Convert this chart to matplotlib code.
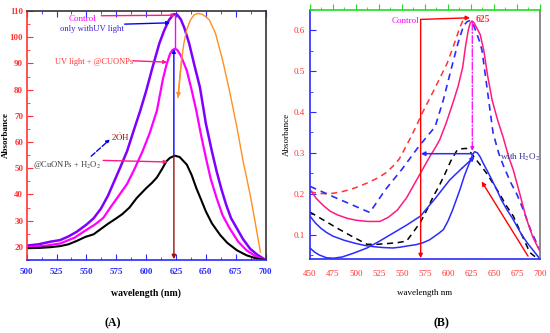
import matplotlib
matplotlib.use('Agg')
import matplotlib.pyplot as plt
from matplotlib.ticker import MultipleLocator

plt.rcParams['font.family'] = ['Liberation Serif', 'DejaVu Serif']
plt.rcParams['mathtext.fontset'] = 'stix'

# ---- panel A data ----
uv_x = [500, 510, 520, 528, 535, 542, 550, 556, 562, 568, 572, 578, 584, 590, 595, 600, 605, 611, 615, 619, 623,
        626, 629, 632, 636, 640, 645, 650, 655, 659, 663, 667, 671, 676, 681, 687, 693, 700]
uv_y = [20.5, 21.0, 22.0, 22.6, 24.0, 25.8, 28.5, 30.9, 34.5, 39.5, 43.7, 50, 56.5, 65, 71.9, 79.5, 88, 97.6, 102.5,
        106.5, 108.8, 108.6, 106.8, 103.5, 97.6, 90, 80.9, 67, 56.5, 48.8, 42, 36, 31, 27, 23, 19.3, 17, 15]
cu_x = [500, 515, 528, 540, 550, 557, 564, 570, 577, 584, 590, 597, 603, 609, 614, 617, 620, 622, 624, 626, 629,
        634, 638, 642, 646, 650, 654, 659, 664, 670, 677, 684, 692, 700]
cu_y = [19.8, 20.4, 21.3, 23.5, 26.5, 28.5, 31, 35, 39.5, 44, 49.5, 56.5, 63.5, 72, 84, 89.5, 93.7, 95.1, 95.6, 95.2,
        93, 87.3, 80, 71.9, 62.5, 54, 46, 38.6, 32, 27, 22, 18.7, 16.3, 15]
h2o2_x = [500, 510, 520, 528, 535, 542, 549, 556, 562, 568, 575, 580, 586, 592, 600, 605, 609, 613, 617, 620, 624,
          628, 634, 638, 642, 646, 650, 655, 662, 668, 676, 684, 692, 700]
h2o2_y = [19.5, 19.6, 19.9, 20.3, 21, 22.3, 23.8, 24.8, 26.8, 28.8, 30.9, 32.5, 35, 38.6, 42.4, 44.5, 46.5, 49.5,
          52.7, 54, 54.8, 54.3, 51.4, 47.5, 42.4, 38, 33.5, 29, 24.5, 21.5, 18.7, 16.8, 15.6, 15]
orange_x = [626.7, 628, 629.6, 631.5, 633.8, 637, 640, 643.5, 647, 650, 653, 658, 664, 670, 676, 681, 687, 691, 695.6]
orange_y = [77, 84, 91.2, 97.5, 102.7, 106.5, 108.5, 109.1, 108.7, 107.8, 106.5, 101.5, 91.2, 79, 65.5, 53, 40, 30, 18]
xticksA = [500, 525, 550, 575, 600, 625, 650, 675, 700]
yticksA = [20, 30, 40, 50, 60, 70, 80, 90, 100, 110]

# ---- panel B data ----
red_dash_x = [450, 458, 466, 475, 483, 490, 500, 512, 525, 533, 540, 547, 553, 560, 566, 571, 578, 585, 592, 599,
              606, 613, 617]
red_dash_y = [0.205, 0.201, 0.2, 0.201, 0.204, 0.208, 0.215, 0.226, 0.24, 0.252, 0.267, 0.285, 0.31, 0.34, 0.368,
              0.393, 0.424, 0.455, 0.487, 0.519, 0.562, 0.608, 0.628]
blue_dash_x = [450, 480, 515, 532, 550, 568, 586, 595, 604, 611, 617, 621, 624, 627, 630, 634, 637, 643, 649, 655,
               660, 668, 675, 682, 690, 698, 700]
blue_dash_y = [0.218, 0.188, 0.154, 0.21, 0.26, 0.315, 0.364, 0.43, 0.51, 0.57, 0.612, 0.622, 0.624, 0.618, 0.6,
               0.575, 0.551, 0.45, 0.349, 0.3, 0.27, 0.228, 0.198, 0.16, 0.11, 0.071, 0.06]
pink_x = [450, 457, 465, 472, 480, 490, 500, 513, 526, 535, 545, 555, 566, 573, 580, 586, 591, 598, 605, 611, 616,
          619, 622, 624, 626, 628, 631, 635, 639, 643, 648, 654, 660, 666, 671, 678, 685, 692, 698, 700]
pink_y = [0.21, 0.188, 0.17, 0.157, 0.148, 0.14, 0.135, 0.132, 0.132, 0.142, 0.16, 0.19, 0.234, 0.262, 0.29, 0.312,
          0.332, 0.373, 0.42, 0.463, 0.51, 0.56, 0.6, 0.617, 0.623, 0.62, 0.607, 0.59, 0.55, 0.49, 0.429, 0.38,
          0.338, 0.29, 0.258, 0.2, 0.14, 0.095, 0.067, 0.06]
black_dash_x = [450, 465, 480, 496, 512, 523, 535, 545, 555, 562, 570, 577, 584, 591, 597, 603, 610, 615, 620, 625,
                630, 636, 642, 649, 656, 663, 671, 680, 689, 695]
black_dash_y = [0.155, 0.135, 0.115, 0.095, 0.076, 0.076, 0.078, 0.08, 0.084, 0.105, 0.13, 0.16, 0.193, 0.222,
                0.25, 0.28, 0.307, 0.31, 0.311, 0.3, 0.285, 0.268, 0.25, 0.225, 0.2, 0.172, 0.145, 0.1, 0.056, 0.045]
blue1_x = [450, 456, 462, 468, 475, 487, 500, 510, 520, 530, 540, 548, 556, 565, 573, 580, 585, 590, 595, 600, 605,
           609, 613, 618, 622, 624, 627, 629, 632, 635, 638, 642, 647, 653, 658, 664, 670, 675, 680, 686, 693, 700]
blue1_y = [0.145, 0.128, 0.115, 0.105, 0.096, 0.086, 0.078, 0.073, 0.07, 0.068, 0.067, 0.069, 0.072, 0.075, 0.08,
           0.087, 0.095, 0.103, 0.112, 0.133, 0.16, 0.185, 0.21, 0.245, 0.268, 0.279, 0.297, 0.303, 0.3, 0.29,
           0.276, 0.259, 0.237, 0.21, 0.185, 0.161, 0.14, 0.12, 0.1, 0.08, 0.06, 0.04]
blue2_x = [450, 455, 460, 468, 476, 485, 497, 512, 525, 540, 555, 570, 586, 602, 615, 629]
blue2_y = [0.067, 0.057, 0.05, 0.043, 0.042, 0.045, 0.054, 0.067, 0.083, 0.103, 0.123, 0.145, 0.188, 0.234, 0.262,
           0.291]
xticksB = [450, 475, 500, 525, 550, 575, 600, 625, 650, 675, 700]
yticksB = [0.1, 0.2, 0.3, 0.4, 0.5, 0.6]

RED = '#ff3333'
BLUE = '#2b2bff'
MAG = '#ff00ff'
PINK = '#ff1a80'


def arrow(ax, start, end, color, lw=1.0, ls='-', ms=7):
    ax.annotate('', xy=end, xytext=start,
                arrowprops=dict(arrowstyle='-|>', color=color, lw=lw, ls=ls,
                                mutation_scale=ms, shrinkA=0, shrinkB=0))


fig = plt.figure(figsize=(5.5, 3.33), dpi=100)

# ================= panel A =================
axA = fig.add_axes([0.0485, 0.2192, 0.4345, 0.7477])
axA.plot(uv_x, uv_y, color='#8000ff', lw=1.8)
axA.plot(cu_x, cu_y, color=MAG, lw=1.6)
axA.plot(h2o2_x, h2o2_y, color='black', lw=1.5)
axA.plot(orange_x, orange_y, color='#ff9020', lw=1.0)
arrow(axA, (orange_x[2], orange_y[2]), (orange_x[0], orange_y[0]), '#ff9020', ms=6)

# vertical guides at the peak
arrow(axA, (623.2, 54.6), (623.2, 95.5), 'blue', lw=1.0, ms=5)
axA.plot([624.5, 624.5], [95.6, 108.3], color=MAG, lw=1.0)
arrow(axA, (623.2, 54.6), (623.2, 15.3), '#a01010', lw=1.0, ms=6)

# labels
axA.text(547, 107.0, 'Control', color=MAG, fontsize=6.5, ha='center', va='center')
arrow(axA, (562.5, 108.2), (624.5, 108.4), PINK, ms=5)
axA.text(555, 103.2, 'only withUV light', color='#4020d0', fontsize=6.2, ha='center', va='center')
arrow(axA, (582, 105.0), (620, 105.5), 'blue', ms=5)
axA.text(556, 90.6, 'UV light + @CUONPs', color=RED, fontsize=6.0, ha='center', va='center')
arrow(axA, (589, 91.0), (617.5, 90.5), PINK, ms=5)
axA.text(579, 61.8, '2$\\dot{\\rm O}$H', color='#a01010', fontsize=6.5, ha='center', va='center')
arrow(axA, (554, 54.6), (569.6, 61), 'blue', ls='--', ms=5)
axA.text(534, 51.4, '@CuONPs + H$_2$O$_2$', color='#404040', fontsize=6.1, ha='center', va='center')
arrow(axA, (564, 53.0), (618, 52.4), PINK, ms=5)

axA.set_xlim(500, 700)
axA.set_ylim(15, 110)
axA.set_xticks(xticksA)
axA.set_yticks(yticksA)
axA.xaxis.set_minor_locator(MultipleLocator(12.5))
axA.yaxis.set_minor_locator(MultipleLocator(5))
axA.tick_params(axis='x', which='both', direction='in', colors=BLUE, top=True, labelsize=6.5, pad=6)
axA.tick_params(axis='x', which='major', length=4)
axA.tick_params(axis='x', which='minor', length=2)
axA.tick_params(axis='y', which='both', direction='in', colors=RED, labelsize=6.5, pad=2.5)
axA.tick_params(axis='y', which='major', length=4)
axA.tick_params(axis='y', which='minor', length=2)
for t in axA.xaxis.get_major_ticks() + axA.xaxis.get_minor_ticks():
    t.tick2line.set_color('#333333')
for lab in axA.get_xticklabels() + axA.get_yticklabels():
    lab.set_fontweight('bold')
axA.spines['left'].set_color(RED)
axA.spines['bottom'].set_color(BLUE)
axA.spines['top'].set_color('#333333')
axA.spines['right'].set_color('#333333')
for s in axA.spines.values():
    s.set_linewidth(1.2)
axA.set_xlabel('wavelength (nm)', fontsize=7, fontweight='bold', labelpad=9)
axA.set_ylabel('Absorbance', fontsize=6.5, fontweight='bold')
axA.yaxis.set_label_coords(-0.072, 0.5)
fig.text(113 / 550, 1 - 323 / 333, '(A)', fontsize=8.5, fontweight='bold', ha='center', va='center')

# ================= panel B =================
axB = fig.add_axes([0.5636, 0.2222, 0.4182, 0.7477])
axB.plot(red_dash_x, red_dash_y, color=RED, lw=1.1, ls=(0, (4, 3)))
axB.plot(blue_dash_x, blue_dash_y, color=BLUE, lw=1.2, ls=(0, (4, 3)))
axB.plot(pink_x, pink_y, color=PINK, lw=1.1)
axB.plot(black_dash_x, black_dash_y, color='black', lw=1.1, ls=(0, (4, 3)))
axB.plot(blue1_x, blue1_y, color=BLUE, lw=1.1)
axB.plot(blue2_x[:-1], blue2_y[:-1], color=BLUE, lw=1.1)
arrow(axB, (blue2_x[-2], blue2_y[-2]), (blue2_x[-1], blue2_y[-1]), BLUE, lw=1.1, ms=6)

# annotations
arrow(axB, (570.3, 0.627), (570.3, 0.042), 'red', lw=1.0, ms=6)
arrow(axB, (570.3, 0.627), (624, 0.631), 'red', lw=1.0, ms=6)
axB.text(569, 0.622, 'Control', color=MAG, fontsize=6.5, ha='right', va='center')
axB.text(630, 0.628, '625', color=RED, fontsize=7, fontweight='bold', ha='left', va='center')
arrow(axB, (626.4, 0.62), (626.4, 0.305), MAG, lw=0.9, ls='-.', ms=5)
arrow(axB, (625.7, 0.298), (570.5, 0.298), BLUE, lw=1.1, ms=6)
axB.text(678, 0.29, 'with H$_2$O$_2$', color='#303090', fontsize=6.5, ha='center', va='center')
arrow(axB, (687, 0.047), (636.6, 0.23), 'red', lw=1.0, ms=6)

axB.set_xlim(450, 700)
axB.set_ylim(0.04, 0.65)
axB.set_xticks(xticksB)
axB.set_yticks(yticksB)
axB.xaxis.set_minor_locator(MultipleLocator(12.5))
axB.yaxis.set_minor_locator(MultipleLocator(0.05))
axB.tick_params(axis='x', which='both', bottom=False, top=True, direction='out', color='#22dd22',
                labelcolor=RED, labelsize=6.5, pad=4)
axB.tick_params(axis='x', which='major', length=4)
axB.tick_params(axis='x', which='minor', length=2)
axB.tick_params(axis='y', which='both', direction='in', color=BLUE, labelcolor=RED, labelsize=6.5)
axB.tick_params(axis='y', which='major', length=4)
axB.tick_params(axis='y', which='minor', length=2)
axB.spines['left'].set_color(BLUE)
axB.spines['bottom'].set_color(BLUE)
axB.spines['top'].set_color('#22dd22')
axB.spines['right'].set_color('#777777')
for s in axB.spines.values():
    s.set_linewidth(1.2)
axB.set_xlabel('wavelength nm', fontsize=6.5, labelpad=8)
axB.set_ylabel('Absorbance', fontsize=6.5, labelpad=2)
fig.text(441.7 / 550, 1 - 323 / 333, '(B)', fontsize=8.5, fontweight='bold', ha='center', va='center')

fig.savefig('out.png', dpi=100)
